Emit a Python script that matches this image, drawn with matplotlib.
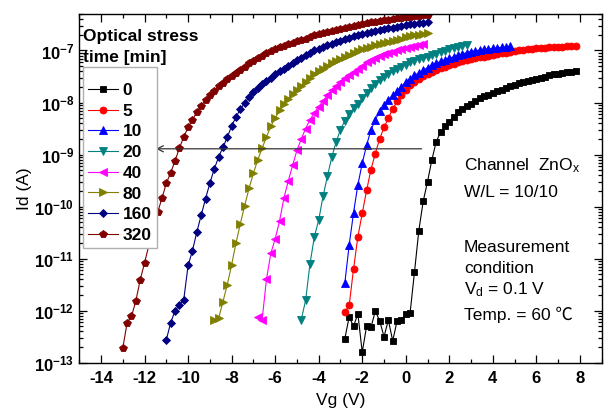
import matplotlib
matplotlib.use("Agg")
import matplotlib.pyplot as plt
import numpy as np
from matplotlib.ticker import MultipleLocator, LogLocator, FuncFormatter, NullFormatter

# gate sweep step (V) and first Vg of each curve
VG_STEP = 0.2

# log10(Id), one value per Vg step
VG_START_0 = -2.8
LOG_ID_0 = [
    -12.54, -12.12, -12.30, -12.06, -12.80, -12.30, -12.32, -12.01, -12.19, -12.50,
    -12.18, -12.58, -12.20, -12.18, -12.07, -12.04, -11.26, -10.46, -9.90, -9.52,
    -9.10, -8.75, -8.57, -8.46, -8.37, -8.27, -8.19, -8.12, -8.07, -8.02,
    -7.97, -7.92, -7.88, -7.85, -7.81, -7.78, -7.75, -7.72, -7.69, -7.66,
    -7.63, -7.61, -7.58, -7.56, -7.54, -7.52, -7.50, -7.48, -7.46, -7.45,
    -7.43, -7.42, -7.41, -7.40,
]

VG_START_5 = -2.8
LOG_ID_5 = [
    -12.03, -11.90, -11.20, -10.58, -10.13, -9.69, -9.29, -8.98, -8.70, -8.48,
    -8.30, -8.12, -7.98, -7.86, -7.76, -7.67, -7.60, -7.54, -7.49, -7.45,
    -7.41, -7.37, -7.34, -7.31, -7.28, -7.26, -7.23, -7.21, -7.19, -7.17,
    -7.15, -7.13, -7.12, -7.10, -7.08, -7.06, -7.05, -7.04, -7.02, -7.01,
    -7.00, -6.99, -6.98, -6.97, -6.96, -6.96, -6.95, -6.94, -6.94, -6.93,
    -6.93, -6.92, -6.92, -6.92,
]

VG_START_10 = -2.8
LOG_ID_10 = [
    -11.47, -10.74, -10.12, -9.58, -9.17, -8.82, -8.53, -8.33, -8.17, -8.05,
    -7.95, -7.86, -7.78, -7.70, -7.60, -7.54, -7.48, -7.43, -7.38, -7.33,
    -7.28, -7.25, -7.21, -7.18, -7.15, -7.12, -7.09, -7.07, -7.04, -7.02,
    -7.01, -6.99, -6.98, -6.97, -6.96, -6.95, -6.94, -6.93, -6.92,
]

VG_START_20 = -4.8
LOG_ID_20 = [
    -12.17, -11.80, -11.10, -10.58, -10.26, -9.80, -9.42, -9.05, -8.76, -8.52,
    -8.35, -8.22, -8.11, -8.02, -7.92, -7.82, -7.72, -7.64, -7.56, -7.50,
    -7.45, -7.40, -7.35, -7.31, -7.27, -7.23, -7.20, -7.17, -7.14, -7.12,
    -7.09, -7.06, -7.03, -7.01, -6.98, -6.96, -6.94, -6.92, -6.90,
]

VG_START_40 = -6.8
LOG_ID_40 = [
    -12.12, -12.18, -11.40, -10.90, -10.62, -10.28, -9.84, -9.51, -9.21, -8.92,
    -8.70, -8.50, -8.33, -8.20, -8.08, -7.97, -7.86, -7.76, -7.68, -7.60,
    -7.53, -7.47, -7.41, -7.35, -7.29, -7.23, -7.19, -7.14, -7.10, -7.06,
    -7.04, -7.02, -7.00, -6.97, -6.95, -6.93, -6.91, -6.89, -6.87,
]

VG_START_80 = -8.8
LOG_ID_80 = [
    -12.18, -12.15, -11.83, -11.50, -11.12, -10.70, -10.33, -9.98, -9.65, -9.36,
    -9.10, -8.88, -8.66, -8.46, -8.30, -8.15, -8.03, -7.93, -7.84, -7.75,
    -7.68, -7.61, -7.53, -7.45, -7.40, -7.35, -7.30, -7.25, -7.20, -7.16,
    -7.12, -7.08, -7.04, -7.01, -6.98, -6.95, -6.93, -6.90, -6.88, -6.85,
    -6.83, -6.81, -6.79, -6.77, -6.75, -6.73, -6.71, -6.70, -6.68, -6.67,
]

VG_START_160 = -11.0
LOG_ID_160 = [
    -12.56, -12.23, -12.00, -11.89, -11.79, -11.13, -10.85, -10.49, -10.17, -9.85,
    -9.55, -9.28, -9.05, -8.86, -8.67, -8.45, -8.28, -8.13, -8.01, -7.90,
    -7.80, -7.72, -7.64, -7.58, -7.52, -7.46, -7.40, -7.35, -7.30, -7.25,
    -7.19, -7.14, -7.09, -7.04, -7.00, -6.97, -6.93, -6.90, -6.87, -6.84,
    -6.81, -6.78, -6.76, -6.73, -6.71, -6.69, -6.67, -6.65, -6.63, -6.61,
    -6.59, -6.57, -6.56, -6.54, -6.53, -6.51, -6.50, -6.49, -6.48, -6.47,
    -6.46,
]

VG_START_320 = -13.0
LOG_ID_320 = [
    -12.72, -12.23, -12.11, -11.81, -11.41, -11.08, -10.74, -10.42, -10.11, -9.84,
    -9.55, -9.35, -9.12, -8.88, -8.66, -8.48, -8.33, -8.19, -8.06, -7.95,
    -7.86, -7.77, -7.69, -7.62, -7.55, -7.49, -7.43, -7.37, -7.31, -7.25,
    -7.20, -7.15, -7.10, -7.05, -7.01, -6.97, -6.93, -6.91, -6.88, -6.85,
    -6.82, -6.79, -6.77, -6.74, -6.71, -6.69, -6.66, -6.64, -6.62, -6.60,
    -6.58, -6.57, -6.55, -6.53, -6.51, -6.49, -6.48, -6.46, -6.45, -6.43,
    -6.42, -6.41, -6.39, -6.38, -6.37, -6.36, -6.35, -6.34, -6.33, -6.32,
    -6.31,
]

STRESS_LABELS = ["0", "5", "10", "20", "40", "80", "160", "320"]
STARTS = [VG_START_0, VG_START_5, VG_START_10, VG_START_20,
          VG_START_40, VG_START_80, VG_START_160, VG_START_320]
LOG_IDS = [LOG_ID_0, LOG_ID_5, LOG_ID_10, LOG_ID_20,
           LOG_ID_40, LOG_ID_80, LOG_ID_160, LOG_ID_320]

MARKERS = ["s", "o", "^", "v", "<", ">", "D", "p"]
COLORS = ["#000000", "#ff0000", "#0000ff", "#008080",
          "#ff00ff", "#808000", "#000080", "#800000"]
MSIZES = [4.6, 5.0, 5.4, 5.4, 5.4, 5.4, 4.2, 5.6]

# shift arrow at Id ~ 1.3 nA
ARROW_ID = 1.29e-9
ARROW_FROM = 0.73
ARROW_TO = -11.48

plt.rcParams["font.family"] = ["Liberation Sans", "DejaVu Sans"]
plt.rcParams["font.weight"] = "bold"
plt.rcParams["mathtext.fontset"] = "custom"
plt.rcParams["mathtext.rm"] = "Liberation Sans:normal"
plt.rcParams["mathtext.bf"] = "Liberation Sans:bold"
plt.rcParams["mathtext.it"] = "Liberation Sans:italic"
plt.rcParams["axes.unicode_minus"] = False

fig = plt.figure(figsize=(6.05, 4.15), dpi=100)
ax = fig.add_axes([0.131, 0.126, 0.8635, 0.840])

for label, start, log_id, marker, color, ms in zip(
    STRESS_LABELS, STARTS, LOG_IDS, MARKERS, COLORS, MSIZES
):
    vg = np.round(start + VG_STEP * np.arange(len(log_id)), 2)
    ax.plot(vg, 10.0 ** np.array(log_id), marker=marker, color=color,
            markersize=ms, markeredgewidth=0.6, lw=0.8, label=label)

ax.set_yscale("log")
ax.set_xlim(-15, 9)
ax.set_ylim(1e-13, 5e-7)

ax.xaxis.set_major_locator(MultipleLocator(2))
ax.xaxis.set_minor_locator(MultipleLocator(1))
ax.yaxis.set_major_locator(LogLocator(base=10))
ax.yaxis.set_minor_locator(LogLocator(base=10, subs=np.arange(2, 10)))
ax.yaxis.set_minor_formatter(NullFormatter())
ax.yaxis.set_major_formatter(
    FuncFormatter(lambda v, p: r"$\mathbf{10^{%d}}$" % round(np.log10(v)))
)

ax.tick_params(which="both", direction="in", top=True, right=True,
               width=0.9, labelsize=12)
ax.tick_params(which="major", length=6)
ax.tick_params(which="minor", length=3)
ax.tick_params(axis="x", which="major", pad=6)
for s in ax.spines.values():
    s.set_linewidth(1.0)

ax.set_xlabel("Vg (V)", fontsize=12.5, labelpad=5)
ax.set_ylabel("Id (A)", fontsize=12.5, labelpad=2)

ax.legend(loc="upper left", bbox_to_anchor=(0.007, 0.848), fontsize=12.5,
          title=" ", title_fontsize=4,
          frameon=True, fancybox=False, edgecolor="#b0b0b0", framealpha=1,
          handlelength=1.7, handletextpad=0.3, labelspacing=0.32,
          borderpad=0.3, borderaxespad=0)

ax.text(0.007, 0.9234, "Optical stress", transform=ax.transAxes,
        fontsize=12.5, va="baseline")
ax.text(0.007, 0.8624, "time [min]", transform=ax.transAxes,
        fontsize=12.5, va="baseline")

ax.annotate("", xy=(ARROW_TO, ARROW_ID), xytext=(ARROW_FROM, ARROW_ID),
            arrowprops=dict(arrowstyle="->", color="#333333", lw=0.9,
                            shrinkA=0, shrinkB=0, mutation_scale=11))

notes = [
    ("Channel  ZnO$_{\\rm x}$", 0.5526),
    ("W/L = 10/10", 0.475),
    ("Measurement", 0.3175),
    ("condition", 0.2572),
    ("V$_{\\rm d}$ = 0.1 V", 0.197),
    ("Temp. = 60 \u2103", 0.1225),
]
for txt, yf in notes:
    ax.text(0.7364, yf, txt, transform=ax.transAxes, fontsize=12.5,
            fontweight="normal", va="baseline",
            family=["Liberation Sans", "Noto Sans CJK SC"])

fig.savefig("out.png", dpi=100)
